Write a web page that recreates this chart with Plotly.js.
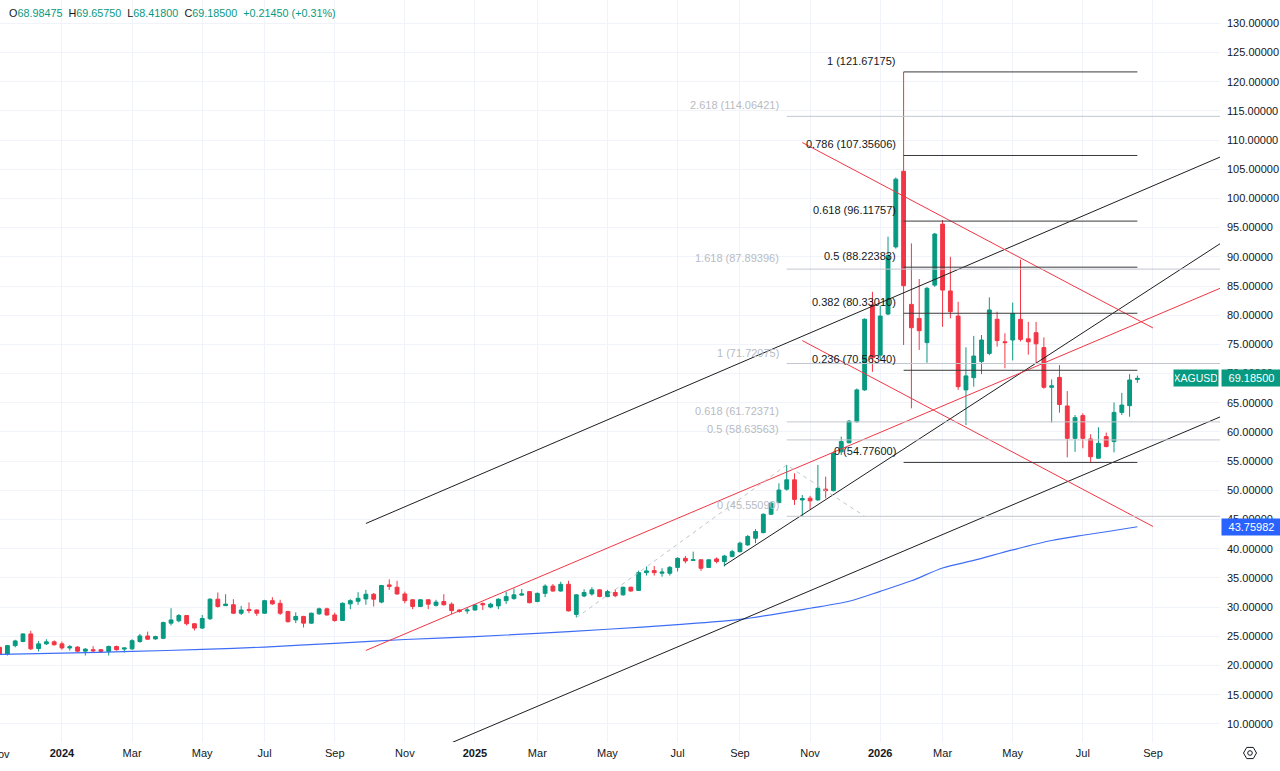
<!DOCTYPE html>
<html><head><meta charset="utf-8">
<script src="https://cdn.plot.ly/plotly-3.0.1.min.js"></script>
<style>html,body{margin:0;padding:0;background:#fff;}#chart{width:1280px;height:771px;}</style>
</head><body><div id="chart"></div>
<script>
// ---- data (weekly XAGUSD) ----
const firstBar = '2023-11-06';
const opens = [
23.10,21.95,23.40,24.10,25.40,22.90,23.70,24.05,23.70,23.00,
23.15,22.45,22.70,22.70,22.40,23.25,22.80,22.85,24.10,25.05,
24.55,24.65,27.25,27.65,28.55,27.15,26.40,28.00,31.35,30.25,
30.40,28.95,29.60,29.50,28.95,31.10,30.65,29.25,27.80,28.40,
27.25,28.85,29.70,28.65,27.70,30.55,31.00,31.40,32.20,30.85,
33.80,33.40,32.25,31.25,30.10,31.25,30.30,30.95,30.50,29.50,
29.35,29.50,30.60,30.00,30.20,31.10,31.45,32.05,32.65,30.95,
32.35,33.60,32.75,33.90,28.75,31.90,32.25,32.95,31.80,32.50,
32.10,33.40,32.85,35.90,36.25,35.80,35.80,36.80,38.35,38.00,
38.10,36.80,38.25,37.80,38.65,39.50,40.65,41.80,42.75,45.90,
47.90,50.20,51.80,48.35,48.65,48.35,50.20,49.95,56.60,58.15,
61.75,67.20,81.75,73.15,80.20,91.70,104.65,81.85,79.45,75.30,
85.15,95.60,84.15,79.85,67.20,69.30,72.05,73.45,79.30,75.45,
75.75,79.30,75.95,77.00,74.45,67.65,69.35,64.45,58.90,62.80,
58.80,55.50,59.20,58.35,63.35,64.50,68.98475];
const highs = [
23.30,23.50,24.40,25.50,25.95,24.20,24.50,24.30,24.10,23.50,
23.30,22.95,23.30,22.80,23.40,23.40,23.10,24.50,25.40,25.80,
25.10,27.50,29.80,28.80,28.65,27.25,28.65,31.50,32.50,32.20,
31.35,30.20,30.80,29.60,31.25,31.70,31.25,29.35,29.10,28.50,
29.05,29.90,29.90,29.05,30.80,31.35,32.55,32.95,32.40,33.80,
34.75,34.50,32.65,31.35,31.35,31.35,31.25,32.20,30.80,29.60,
29.90,30.50,30.80,30.75,31.50,32.65,33.20,33.10,32.75,32.50,
33.90,33.95,34.35,34.50,32.20,33.05,33.40,33.05,32.95,33.05,
33.50,33.50,36.25,36.95,37.05,36.65,37.05,38.55,38.75,39.50,
38.20,38.20,38.50,38.95,39.80,41.20,42.35,43.35,46.05,48.05,
51.20,54.35,52.90,49.20,49.05,54.35,52.35,56.65,59.20,62.05,
67.45,79.45,84.00,81.60,93.45,103.60,121.67175,92.30,86.20,84.85,
94.10,96.30,90.00,82.30,74.50,76.45,76.60,83.05,80.60,76.90,
82.15,89.50,78.85,78.85,76.20,69.00,71.45,67.00,62.90,63.20,
59.60,60.80,59.90,65.05,66.70,69.90,69.65750];
const lows = [
21.90,21.70,23.10,24.00,22.65,22.40,23.50,23.40,22.70,22.55,
22.30,21.70,22.30,22.15,21.70,22.55,22.20,22.65,23.90,24.40,
24.40,24.50,26.85,27.40,26.85,26.00,26.25,27.80,29.90,30.20,
28.85,28.65,28.95,28.50,28.85,30.40,28.65,27.35,27.25,26.50,
27.15,28.65,28.55,27.50,27.65,29.65,30.40,30.40,30.10,30.65,
32.95,32.10,30.65,29.65,30.00,29.65,30.10,30.25,28.80,29.05,
28.85,29.40,29.50,29.80,29.65,30.55,31.25,31.90,30.65,30.85,
31.70,32.65,32.65,29.25,28.25,31.70,31.95,31.70,31.70,31.70,
31.95,32.65,32.75,35.40,35.40,35.20,35.40,36.10,37.50,37.95,
36.20,36.70,37.50,36.95,38.55,39.35,40.50,40.95,42.65,45.80,
47.80,49.95,47.50,45.50,46.75,48.25,48.65,49.80,56.05,58.05,
61.60,67.05,70.30,72.20,80.00,91.40,74.90,64.05,74.05,71.85,
84.85,78.00,79.45,67.20,61.20,67.75,69.90,73.15,74.60,70.90,
72.25,75.50,73.25,71.75,67.40,61.60,63.30,55.65,56.60,57.20,
54.776,55.50,57.35,56.50,62.90,62.60,68.41800];
const closes = [
22.00,23.40,24.20,25.40,22.85,23.70,24.05,23.55,23.00,23.20,
22.45,22.80,22.50,22.40,23.25,22.70,23.00,24.25,25.05,24.50,
24.95,27.35,27.80,28.55,27.15,26.40,28.05,31.35,30.10,30.50,
28.95,29.50,29.40,28.95,31.10,30.55,28.95,27.50,28.40,27.25,
28.95,29.70,28.65,27.70,30.65,31.10,31.50,32.20,31.35,33.70,
33.55,32.25,31.10,30.10,31.25,30.50,30.85,30.40,29.40,29.25,
29.50,30.35,30.40,30.50,31.35,31.80,32.10,32.25,30.75,32.35,
33.60,32.75,33.90,29.35,32.10,32.50,32.95,31.80,32.65,31.95,
33.40,32.75,35.90,36.20,35.90,36.00,36.80,38.35,37.90,38.10,
36.65,38.10,37.80,38.75,39.50,40.95,42.10,42.95,45.90,47.80,
50.05,51.80,48.45,48.60,48.20,50.35,49.95,56.35,58.35,61.85,
67.20,79.30,72.70,79.85,90.20,103.30,85.05,77.85,77.35,84.60,
93.90,84.30,80.60,67.75,69.60,73.00,75.75,80.90,75.65,75.30,
80.30,75.85,75.45,75.10,67.65,67.90,64.70,58.90,62.45,58.90,
55.75,58.05,57.50,63.35,64.60,68.90,69.18500];

// moving average (bar number, value)
const maBars   = [0,8,17,26,34,43,52,61,69,78,87,95,104,109,113,117,121,125,130,135,139,142,146];
const maValues = [21.9,22.1,22.4,22.75,23.15,23.8,24.45,24.95,25.5,26.2,27.0,27.9,29.8,31.0,32.7,34.5,36.7,38.0,39.8,41.4,42.3,42.9,43.75982];

// drawn trend lines: [date0, price0, date1, price1]
const blackLines = [
  ['2024-09-30',44.32,'2026-12-07',109.6],
  ['2024-12-02',5.64,'2026-12-07',65.06],
  ['2025-08-18',37.14,'2026-12-07',96.05]
];
const redLines = [
  ['2024-09-30',22.57,'2026-12-07',87.09],
  ['2025-10-27',109.57,'2026-09-07',77.81],
  ['2025-10-27',75.65,'2026-09-07',43.81]
];

// fib retracement (black)
const retrRatios = ['1','0.786','0.618','0.5','0.382','0.236','0'];
const retrLevels = [121.67175,107.35606,96.11757,88.22383,80.33010,70.56340,54.77600];
const retrSpan = ['2026-01-26','2026-08-24'];
// trend-based fib extension (grey)
const extRatios = ['2.618','1.618','1','0.618','0.5','0'];
const extLevels = [114.06421,87.89396,71.72075,61.72371,58.63563,45.55090];
const extSpan = ['2025-10-13','2026-12-07'];
const extPivotDates = ['2025-04-07','2025-10-13','2025-12-22'];
const extPivotPrices = [28.17,54.34,45.5509];

const tickDates = ['2024-01-01','2024-03-04','2024-05-06','2024-07-01','2024-09-02','2024-11-04','2025-01-06','2025-03-03','2025-05-05','2025-07-07','2025-09-01','2025-11-03','2026-01-05','2026-03-02','2026-05-04','2026-07-06','2026-09-07'];
const tickLabels = ['<b>2024</b>','Mar','May','Jul','Sep','Nov','<b>2025</b>','Mar','May','Jul','Sep','Nov','<b>2026</b>','Mar','May','Jul','Sep'];

const symbol = 'XAGUSD';
const header = {O:'68.98475',H:'69.65750',L:'68.41800',C:'69.18500',chg:'+0.21450 (+0.31%)'};

// ---- build ----
const t0 = Date.parse(firstBar + 'T00:00:00Z');
const dates = opens.map((_, i) => new Date(t0 + i * 7 * 86400000).toISOString().slice(0, 10));

const UP = '#089981', DN = '#f23645', INK = '#131722';
const traces = [];
traces.push({
  type:'candlestick', x:dates, open:opens, high:highs, low:lows, close:closes,
  increasing:{line:{color:UP,width:1},fillcolor:UP},
  decreasing:{line:{color:DN,width:1},fillcolor:DN},
  whiskerwidth:0, hoverinfo:'skip', showlegend:false
});
traces.push({type:'scatter',mode:'lines',x:maBars.map(b=>dates[b]),y:maValues,
  line:{color:'#3f6ef6',width:1.2,shape:'spline',smoothing:0.8},hoverinfo:'skip'});
blackLines.forEach(l=>traces.push({type:'scatter',mode:'lines',x:[l[0],l[2]],y:[l[1],l[3]],line:{color:'#1e1e1e',width:1},hoverinfo:'skip'}));
redLines.forEach(l=>traces.push({type:'scatter',mode:'lines',x:[l[0],l[2]],y:[l[1],l[3]],line:{color:DN,width:1},hoverinfo:'skip'}));
traces.push({type:'scatter',mode:'lines',x:extPivotDates,y:extPivotPrices,line:{color:'#c3c6ce',width:1,dash:'4px,4px'},hoverinfo:'skip'});
extLevels.forEach(v=>traces.push({type:'scatter',mode:'lines',x:extSpan,y:[v,v],line:{color:'#c3c6ce',width:1},hoverinfo:'skip'}));
retrLevels.forEach(v=>traces.push({type:'scatter',mode:'lines',x:retrSpan,y:[v,v],line:{color:'#3a3a3a',width:1},hoverinfo:'skip'}));

const FONT = 'Liberation Sans, Arial, sans-serif';
const ann = [];
retrLevels.forEach((v,i)=>ann.push({xref:'x',yref:'y',x:retrSpan[0],y:v,xanchor:'right',yanchor:'middle',xshift:-6,yshift:11,
  text:retrRatios[i]+' ('+v.toFixed(5)+')',showarrow:false,font:{size:11,color:INK}}));
extLevels.forEach((v,i)=>ann.push({xref:'x',yref:'y',x:extSpan[0],y:v,xanchor:'right',yanchor:'middle',xshift:-6,yshift:11,
  text:extRatios[i]+' ('+v.toFixed(5)+')',showarrow:false,font:{size:11,color:'#b8bbc3'}}));
const lastClose = closes[closes.length-1], lastMA = maValues[maValues.length-1];
ann.push({xref:'paper',yref:'y',x:1,y:lastClose,xanchor:'right',yanchor:'middle',xshift:-1,text:symbol,showarrow:false,
  bgcolor:UP,borderpad:1,width:42,height:14,font:{size:10.5,color:'#ffffff'}});
ann.push({xref:'paper',yref:'y',x:1,y:lastClose,xanchor:'left',yanchor:'middle',xshift:1,text:lastClose.toFixed(5),showarrow:false,
  bgcolor:UP,borderpad:1,width:57,height:14,font:{size:11,color:'#ffffff'}});
ann.push({xref:'paper',yref:'y',x:1,y:lastMA,xanchor:'left',yanchor:'middle',xshift:1,text:lastMA.toFixed(5),showarrow:false,
  bgcolor:'#2962ff',borderpad:1,width:57,height:14,font:{size:11,color:'#ffffff'}});
const k = s=>'<span style="color:'+INK+'">'+s+'</span>';
ann.push({xref:'paper',yref:'paper',x:7/1220,y:1,xanchor:'left',yanchor:'middle',yshift:-12.5,showarrow:false,
  text:k('O')+header.O+'\u00a0\u00a0'+k('H')+header.H+'\u00a0\u00a0'+k('L')+header.L+'\u00a0\u00a0'+k('C')+header.C+'\u00a0\u00a0'+header.chg,
  font:{size:10.8,color:UP}});
ann.push({xref:'paper',yref:'paper',x:-0.0003,y:0,xanchor:'center',yanchor:'top',yshift:-4,text:'Nov',showarrow:false,font:{size:11,color:INK}});

const shapes = [
  {type:'path',xref:'paper',yref:'paper',xsizemode:'pixel',ysizemode:'pixel',xanchor:1250/1220,yanchor:-11/742,
   path:'M 6.5 0 L 3.25 5.6 L -3.25 5.6 L -6.5 0 L -3.25 -5.6 L 3.25 -5.6 Z',line:{color:INK,width:1}},
  {type:'circle',xref:'paper',yref:'paper',xsizemode:'pixel',ysizemode:'pixel',xanchor:1250/1220,yanchor:-11/742,
   x0:-2.3,x1:2.3,y0:-2.3,y1:2.3,line:{color:INK,width:1}}
];

const layout = {
  width:1280,height:771,margin:{l:0,r:60,t:0,b:29,pad:0},
  paper_bgcolor:'#ffffff',plot_bgcolor:'#ffffff',showlegend:false,hovermode:false,
  font:{family:FONT,size:11,color:INK},
  xaxis:{type:'date',range:['2023-11-06 08:24','2026-11-06 04:48'],rangeslider:{visible:false},
    showgrid:true,gridcolor:'#f0f3fa',zeroline:false,showline:false,ticks:'',
    tickmode:'array',tickvals:tickDates,ticktext:tickLabels,tickfont:{size:11,color:INK},ticklabelstandoff:3,fixedrange:true},
  yaxis:{side:'right',range:[6.89,133.99],tick0:0,dtick:5,tickformat:'.5f',showgrid:true,gridcolor:'#f0f3fa',
    zeroline:false,showline:false,ticks:'',ticklabelstandoff:6,tickfont:{size:11,color:INK},fixedrange:true},
  annotations:ann,shapes:shapes
};
Plotly.newPlot('chart',traces,layout,{staticPlot:true,displayModeBar:false});
</script></body></html>
